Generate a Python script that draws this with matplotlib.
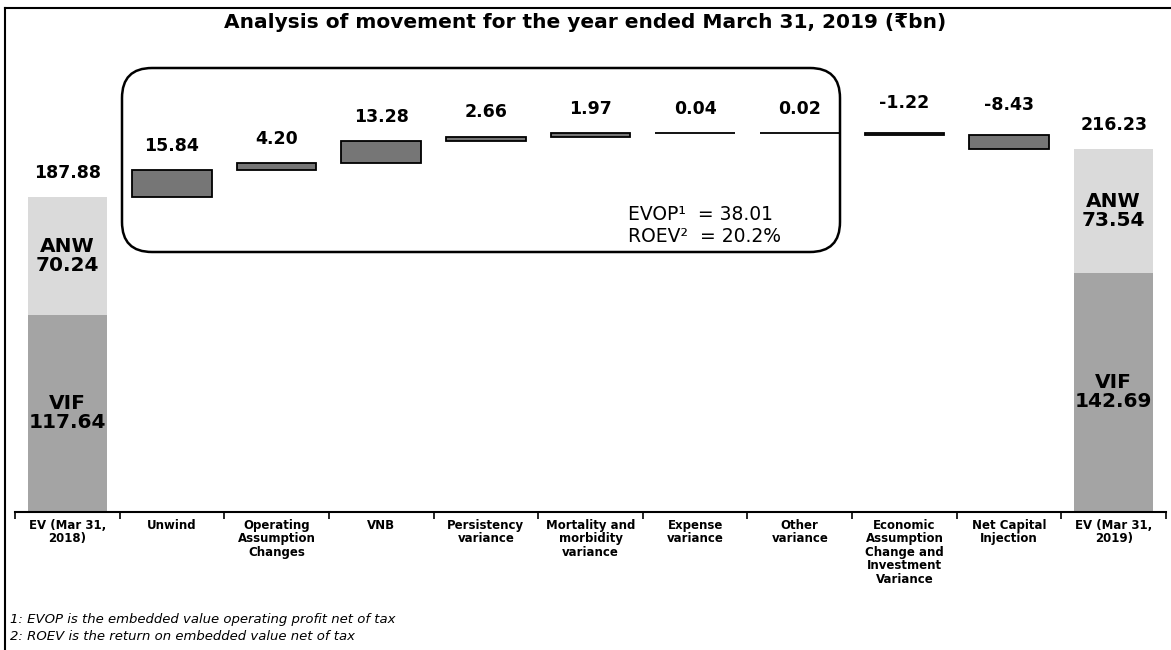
import numpy as np
import matplotlib
matplotlib.use("Agg")
import matplotlib.pyplot as plt
from matplotlib.patches import FancyBboxPatch
from matplotlib.lines import Line2D
from matplotlib.transforms import IdentityTransform

# Daten: Bewegung des Embedded Value (Rs bn)
categories = ["EV (Mar 31,\n2018)", "Unwind", "Operating\nAssumption\nChanges", "VNB",
              "Persistency\nvariance", "Mortality and\nmorbidity\nvariance", "Expense\nvariance",
              "Other\nvariance", "Economic\nAssumption\nChange and\nInvestment\nVariance",
              "Net Capital\nInjection", "EV (Mar 31,\n2019)"]
movements = [15.84, 4.20, 13.28, 2.66, 1.97, 0.04, 0.02, -1.22, -8.43]
move_labels = ["15.84", "4.20", "13.28", "2.66", "1.97", "0.04", "0.02", "-1.22", "-8.43"]
anw = [70.24, 73.54]
vif = [117.64, 142.69]
totals = [187.88, 216.23]
evop = "38.01"
roev = "20.2%"

W, H = 1171, 650
fig = plt.figure(figsize=(W / 100, H / 100), dpi=100)
fig.patch.set_facecolor("white")

base_px = 512          # Lage der x-Achse in Pixeln von oben
scale = 1.677          # Pixel pro bn
ax = fig.add_axes([15 / W, 1 - base_px / H, 1151 / W, base_px / H])
ax.set_xlim(-0.5, len(categories) - 0.5)
ax.set_ylim(0, base_px / scale)

font = "DejaVu Sans"
width = 0.76
c_anw = "#dadada"
c_vif = "#a4a4a4"
c_move = "#767676"

# Anfangs- und Endbalken (VIF unten, ANW oben)
ends = [0, len(categories) - 1]
ax.bar(ends, vif, width, color=c_vif, edgecolor="none")
ax.bar(ends, anw, width, bottom=vif, color=c_anw, edgecolor="none")

for k, x in enumerate(ends):
    ax.text(x, vif[k] + anw[k] / 2, "ANW\n" + f"{anw[k]:.2f}", ha="center", va="center",
            fontsize=14.5, fontweight="bold", family=font, linespacing=1.0)
    ax.text(x, vif[k] / 2, "VIF\n" + f"{vif[k]:.2f}", ha="center", va="center",
            fontsize=14.5, fontweight="bold", family=font, linespacing=1.0)
    ax.annotate(f"{totals[k]:.2f}", (x, vif[k] + anw[k]), xytext=(0, 11),
                textcoords="offset points", ha="center", va="bottom",
                fontsize=12.5, fontweight="bold", family=font)

# Wasserfall der Bewegungen
moves = np.array(movements)
level = totals[0] + np.concatenate([[0], np.cumsum(moves)[:-1]])
xm = np.arange(1, len(moves) + 1)
ax.bar(xm, moves, width, bottom=level, color=c_move, edgecolor="black", linewidth=1.3)
tops = np.maximum(level, level + moves)
for x, t, lab, m in zip(xm, tops, move_labels, moves):
    off = 11 if m >= 0 else 15
    ax.annotate(lab, (x, t), xytext=(0, off), textcoords="offset points",
                ha="center", va="bottom", fontsize=12.5, fontweight="bold", family=font)

# Achse
for s in ["top", "left", "right"]:
    ax.spines[s].set_visible(False)
ax.spines["bottom"].set_linewidth(1.5)
ax.set_yticks([])
ax.set_xticks(range(len(categories)))
ax.set_xticklabels(categories, fontsize=8.5, fontweight="bold", family=font,
                   linespacing=1.05, va="top")
ax.tick_params(axis="x", which="major", length=0, pad=5)
ax.set_xticks(np.arange(-0.5, len(categories)), minor=True)
ax.tick_params(axis="x", which="minor", length=5, width=1.2, direction="out")

# Titel
fig.text(585 / W, 1 - 22 / H, "Analysis of movement for the year ended March 31, 2019 (\u20b9bn)",
         ha="center", va="center", fontsize=14.5, fontweight="bold", family=font)

# Rahmen um die operativen Positionen
box = FancyBboxPatch((122, H - 252), 718, 184, boxstyle="round,pad=0,rounding_size=30",
                     transform=IdentityTransform(), fill=False, edgecolor="black", linewidth=1.8)
fig.add_artist(box)
fig.text(628 / W, 1 - 214 / H, "EVOP\u00b9  = " + evop, ha="left", va="center",
         fontsize=13.5, family=font)
fig.text(628 / W, 1 - 237 / H, "ROEV\u00b2  = " + roev, ha="left", va="center",
         fontsize=13.5, family=font)

# Fussnoten
fig.text(10 / W, 1 - 619 / H, "1: EVOP is the embedded value operating profit net of tax",
         ha="left", va="center", fontsize=9.5, style="italic", family=font)
fig.text(10 / W, 1 - 637 / H, "2: ROEV is the return on embedded value net of tax",
         ha="left", va="center", fontsize=9.5, style="italic", family=font)

# Seitenrahmen links und oben
fig.add_artist(Line2D([5 / W, 5 / W], [0, 1 - 8 / H], transform=fig.transFigure,
                      color="black", linewidth=1.5))
fig.add_artist(Line2D([5 / W, 1], [1 - 8 / H, 1 - 8 / H], transform=fig.transFigure,
                      color="black", linewidth=1.5))

fig.savefig("out.png", dpi=100)
